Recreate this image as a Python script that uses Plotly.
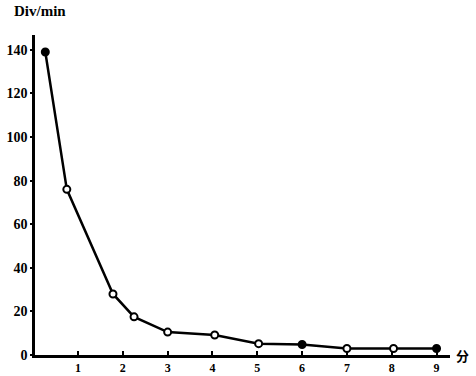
import plotly.graph_objects as go

x_min = [0.27, 0.75, 1.78, 2.25, 3.0, 4.05, 5.03, 6.0, 7.0, 8.04, 9.0]
rate = [139, 76, 28, 17.5, 10.5, 9.2, 5.2, 4.8, 3.0, 3.0, 3.0]
filled = [True, False, False, False, False, False, False, True, False, False, True]
x_ticks = [1, 2, 3, 4, 5, 6, 7, 8, 9]
y_ticks = [0, 20, 40, 60, 80, 100, 120, 140]

font_family = "Liberation Serif, DejaVu Serif, serif"

fig = go.Figure()
fig.add_trace(go.Scatter(
    x=x_min, y=rate, mode="lines+markers",
    line=dict(color="black", width=2.5),
    marker=dict(size=7, symbol="circle",
                color=["black" if f else "white" for f in filled],
                line=dict(color="black", width=2)),
    showlegend=False,
))

fig.update_layout(
    width=476, height=376,
    margin=dict(l=35, r=26, t=35, b=21),
    paper_bgcolor="white", plot_bgcolor="white",
    font=dict(family=font_family, size=14, color="black"),
    xaxis=dict(range=[0.04, 9.3], tickvals=x_ticks, ticktext=[str(t) for t in x_ticks],
               automargin=False,
               showgrid=False, zeroline=False, showline=True, linecolor="black", linewidth=2.5,
               ticks="inside", ticklen=4, tickwidth=1.5, tickcolor="black",
               tickfont=dict(family=font_family, size=12, color="black", weight="bold")),
    yaxis=dict(range=[0, 146.8], tickvals=y_ticks, ticktext=[str(t) for t in y_ticks],
               automargin=False,
               showgrid=False, zeroline=False, showline=True, linecolor="black", linewidth=2.5,
               ticks="outside", ticklen=2, tickwidth=1.5, tickcolor="black",
               tickfont=dict(family=font_family, size=14, color="black", weight="bold")),
    annotations=[
        dict(text="<b>Div/min</b>", xref="paper", yref="paper", x=-0.055, y=1.045,
             xanchor="left", yanchor="bottom", showarrow=False,
             font=dict(family=font_family, size=15, color="black")),
        dict(text="<b>分</b>", xref="paper", yref="paper", x=1.01, y=0.0,
             xanchor="left", yanchor="middle", showarrow=False,
             font=dict(family="Noto Sans CJK SC", size=13, color="black")),
    ],
)

fig.write_html("out.html", config={"displayModeBar": False},
               post_script="document.body.style.margin='0';document.body.style.padding='0';")
